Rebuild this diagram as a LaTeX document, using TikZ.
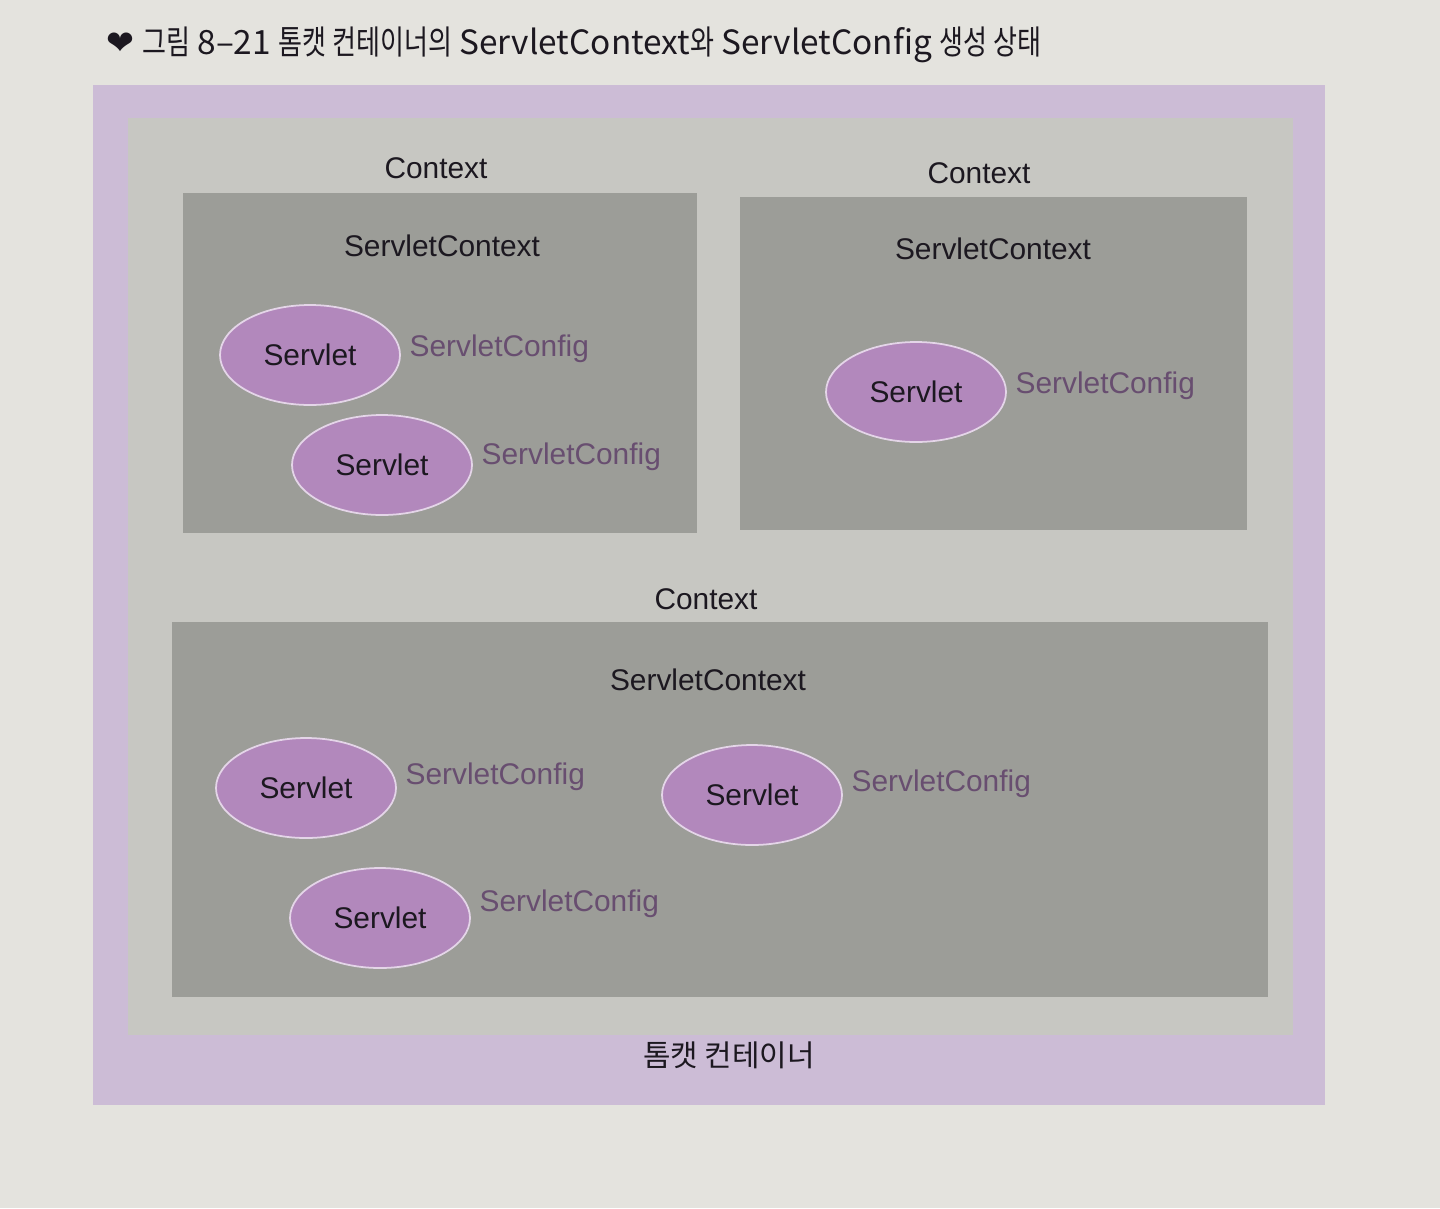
\documentclass[tikz,border=0pt]{standalone}
\usepackage{fontspec}
\setmainfont{Liberation Sans}
\newfontfamily\kr{Noto Sans CJK KR}
\newfontfamily\krc[FakeStretch=0.78]{Noto Sans CJK KR}
\newfontfamily\dv{DejaVu Sans}
\usetikzlibrary{shapes.geometric}
\definecolor{paper}{RGB}{228,227,222}
\definecolor{lilac}{RGB}{204,188,214}
\definecolor{shell}{RGB}{199,199,194}
\definecolor{ctxgrey}{RGB}{156,157,152}
\definecolor{servletfill}{RGB}{178,136,188}
\definecolor{cfgtext}{RGB}{104,78,112}
\definecolor{ink}{RGB}{28,24,32}

\begin{document}
\begin{tikzpicture}
  [x=0.1mm,y=-0.1mm,
   every node/.style={font=\fontsize{8.5}{10}\selectfont,text=ink},
   servlet/.style={ellipse,fill=servletfill,draw=white!65!servletfill,line width=0.5pt,
                   minimum width=18mm,minimum height=10mm,inner sep=0pt},
   cfg/.style={anchor=west,text=cfgtext,inner sep=0pt}]
\useasboundingbox (0,0) rectangle (1440,1208);
  % Papier und Rahmen
  \fill[paper] (0,0) rectangle (1440,1208);
  \fill[lilac] (93,85) rectangle (1325,1105);
  \fill[shell] (128,118) rectangle (1293,1035);

  % Die drei Contexts
  \fill[ctxgrey] (183,193) rectangle (697,533);
  \fill[ctxgrey] (740,197) rectangle (1247,530);
  \fill[ctxgrey] (172,622) rectangle (1268,997);

  \node (ctx1) at (436,168) {Context};
  \node (ctx2) at (979,173) {Context};
  \node (ctx3) at (706,599) {Context};
  \node (sc1) at (442,246) {ServletContext};
  \node (sc2) at (993,249) {ServletContext};
  \node (sc3) at (708,680) {ServletContext};

  % Servlets mit ihrer ServletConfig
  \foreach \n/\x/\y/\cy in {s1/310/355/349, s2/382/465/457, s3/916/392/386,
                            s4/306/788/777, s5/752/795/784, s6/380/918/904}
  {
    \node[servlet] (\n) at (\x,\y) {Servlet};
    \node[cfg] (\n-cfg) at ([xshift=0.8mm,yshift={(\y-\cy)*0.1mm}]\n.east) {ServletConfig};
  }

  \node[font=\kr\fontsize{8.5}{10}\selectfont] (tomcat) at (729,1055) {톰캣 컨테이너};
  \node[anchor=west,inner sep=0pt,font=\kr\fontsize{9.5}{11}\selectfont] (title) at (106,45)
    {{\dv ❤} {\krc 그림} 8–21 {\krc 톰캣 컨테이너의} ServletContext{\krc 와}
     ServletConfig {\krc 생성 상태}};
\end{tikzpicture}
\end{document}
